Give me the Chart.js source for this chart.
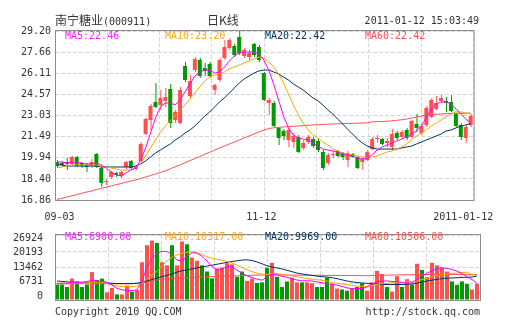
<!DOCTYPE html>
<html>
<head>
<meta charset="utf-8">
<title>南宁糖业(000911) 日K线</title>
<script src="https://cdn.jsdelivr.net/npm/chart.js@4.4.1/dist/chart.umd.min.js"></script>
<style>
  body { margin: 0; width: 505px; height: 330px; overflow: hidden; position: relative; background: #fff;
         font-family: "DejaVu Sans Mono", monospace; font-size: 10px; color: #333; }
  canvas { position: absolute; left: 0; }
  #kline { top: 0; }
  #vol { top: 225px; }
  .t { position: absolute; white-space: nowrap; line-height: 10px; }
  .cjk { font-family: "Noto Sans CJK SC", sans-serif; font-size: 12px; line-height: 12px; }
</style>
</head>
<body>
<canvas id="kline" width="505" height="225"></canvas>
<canvas id="vol" width="505" height="105"></canvas>

<div class="t cjk" style="left:55px;top:14px">南宁糖业</div>
<div class="t" style="left:103px;top:17px">(000911)</div>
<div class="t cjk" style="left:207px;top:14px">日K线</div>
<div class="t" style="right:26px;top:16px">2011-01-12 15:03:49</div>

<div class="t" style="left:65px;top:31px;color:#ff22ff">MA5:22.46</div>
<div class="t" style="left:165px;top:31px;color:#ffa520">MA10:23.20</div>
<div class="t" style="left:265px;top:31px;color:#003366">MA20:22.42</div>
<div class="t" style="left:365px;top:31px;color:#ff4c4c">MA60:22.42</div>

<div class="t" style="left:65px;top:232px;color:#ff22ff">MA5:6900.00</div>
<div class="t" style="left:165px;top:232px;color:#ffa520">MA10:10317.00</div>
<div class="t" style="left:265px;top:232px;color:#003366">MA20:9969.00</div>
<div class="t" style="left:365px;top:232px;color:#ff4c4c">MA60:10506.00</div>

<div class="t" style="left:55px;top:307px">Copyright 2010 QQ.COM</div>
<div class="t" style="right:25px;top:307px">http://stock.qq.com</div>

<script>
// daily candles, 09-03 .. 2011-01-12
const opens = [19.63,19.56,19.63,19.49,20.00,19.56,19.42,19.34,20.22,19.20,
  18.17,18.54,18.83,18.61,19.27,19.71,19.12,19.71,21.68,22.70,
  24.02,23.80,24.09,24.96,22.70,22.48,26.64,24.45,26.35,27.08,
  26.50,26.79,24.89,25.62,27.23,27.96,28.10,28.76,27.37,27.30,
  28.25,28.03,26.13,23.94,23.94,22.12,21.90,21.24,21.09,21.46,
  20.66,21.09,21.31,21.17,20.36,19.56,20.15,20.44,20.29,19.78,
  20.22,20.00,19.63,19.78,20.58,21.31,21.31,21.02,20.73,21.75,
  21.46,21.97,21.46,22.41,21.75,22.34,22.92,23.50,24.09,24.09,
  24.02,23.14,22.34,21.39,22.34];
const highs = [19.78,19.71,19.93,20.07,20.07,19.63,19.56,19.85,20.29,19.34,
  18.39,18.98,18.90,18.98,19.71,19.78,19.42,21.09,22.85,23.87,
  25.40,24.89,25.04,25.33,23.43,25.11,26.94,25.99,27.30,27.23,
  26.86,26.94,25.33,27.23,28.54,28.69,28.25,29.20,27.96,27.81,
  28.32,28.18,26.21,24.31,24.09,22.19,22.04,22.12,21.75,21.61,
  21.24,21.61,21.46,21.31,20.51,20.29,20.44,20.51,20.36,20.44,
  20.29,20.07,19.93,20.51,21.46,21.61,21.39,21.39,22.04,21.90,
  21.97,22.12,22.70,23.14,22.41,23.72,24.31,24.45,24.53,24.38,
  24.53,23.21,22.48,22.34,23.14];
const lows = [19.20,19.27,19.05,19.42,19.27,19.20,18.90,19.20,19.20,17.81,
  17.95,18.39,18.54,18.47,19.12,19.12,19.05,19.63,21.61,21.97,
  23.58,23.43,23.65,22.12,22.48,22.41,25.48,24.31,26.21,25.77,
  25.91,25.77,24.53,25.48,27.08,27.81,27.30,27.45,27.23,27.08,
  27.30,26.94,24.09,23.07,22.19,20.88,21.24,20.73,20.66,20.29,
  20.51,20.95,20.66,20.36,19.05,19.42,19.93,20.00,19.78,19.27,
  19.93,19.12,19.05,19.71,20.51,21.02,20.88,20.73,20.51,21.24,
  21.31,21.24,21.39,21.82,21.61,22.19,22.85,23.43,23.94,23.29,
  23.29,22.19,21.24,21.02,22.19];
const closes = [19.34,19.42,19.49,20.00,19.34,19.34,19.27,19.63,19.27,18.10,
  18.25,18.90,18.69,18.90,19.63,19.20,19.27,20.95,22.77,23.72,
  23.65,24.31,24.38,22.48,23.29,24.89,25.62,25.55,27.16,25.91,
  26.28,25.91,25.26,27.08,28.03,28.54,27.45,27.59,27.81,27.59,
  27.45,27.08,24.16,24.16,22.26,21.39,21.53,21.97,21.53,20.36,
  21.02,21.46,20.80,20.51,19.20,20.15,20.22,20.07,20.00,20.29,
  20.00,19.20,19.85,20.36,21.31,21.39,20.95,21.17,21.68,21.39,
  21.82,21.39,22.63,22.12,22.26,23.58,24.16,23.94,24.31,23.94,
  23.36,22.26,21.46,22.19,22.99];

// price moving averages
const ma5 = [19.63,19.63,19.56,19.63,19.63,19.56,19.49,19.49,19.56,19.42,
  19.20,18.90,18.69,18.61,18.83,19.05,19.20,19.78,20.66,21.75,
  22.85,23.65,23.94,23.94,23.80,24.16,24.75,25.33,25.91,26.21,
  26.35,26.35,26.13,26.21,26.57,27.01,27.37,27.59,27.67,27.67,
  27.67,27.52,27.08,26.35,25.33,24.16,22.99,22.12,21.61,21.39,
  21.31,21.24,21.02,20.80,20.58,20.51,20.44,20.36,20.22,20.15,
  20.07,19.93,19.85,19.93,20.15,20.51,20.73,20.88,21.02,21.17,
  21.31,21.46,21.68,21.90,22.26,22.92,23.50,23.87,24.02,24.02,
  23.87,23.50,23.14,22.77,22.46];
const ma10 = [19.20,19.27,19.34,19.42,19.42,19.42,19.42,19.42,19.42,19.34,
  19.27,19.20,19.12,19.05,19.05,19.05,19.20,19.56,20.07,20.66,
  21.24,21.82,22.26,22.63,22.99,23.43,23.80,24.23,24.67,25.11,
  25.55,25.84,25.99,26.06,26.21,26.43,26.57,26.72,26.86,27.01,
  27.16,27.30,27.23,26.94,26.57,26.06,25.40,24.60,23.80,23.07,
  22.48,21.97,21.61,21.39,21.09,20.88,20.58,20.44,20.29,20.22,
  20.15,20.07,20.00,19.93,20.00,20.07,20.22,20.36,20.44,20.58,
  20.73,20.95,21.24,21.53,21.75,21.97,22.26,22.48,22.70,22.92,
  23.14,23.29,23.29,23.21,23.20];
const ma20 = [19.42,19.42,19.34,19.34,19.34,19.34,19.34,19.34,19.34,19.27,
  19.27,19.27,19.27,19.27,19.27,19.27,19.34,19.49,19.71,20.00,
  20.29,20.51,20.73,20.95,21.24,21.46,21.75,21.97,22.26,22.63,
  22.99,23.29,23.65,24.02,24.31,24.67,25.04,25.40,25.70,25.91,
  26.13,26.28,26.35,26.35,26.21,26.06,25.84,25.62,25.33,25.11,
  24.89,24.60,24.31,24.09,23.80,23.43,23.14,22.77,22.41,22.04,
  21.68,21.31,21.02,20.80,20.66,20.58,20.58,20.58,20.58,20.58,
  20.66,20.73,20.80,20.95,21.09,21.24,21.39,21.53,21.68,21.90,
  21.97,22.12,22.26,22.34,22.42];
const ma60 = [16.90,16.98,17.08,17.17,17.25,17.35,17.44,17.52,17.62,17.71,
  17.79,17.89,17.98,18.06,18.16,18.25,18.33,18.43,18.54,18.65,
  18.76,18.87,18.99,19.14,19.28,19.43,19.58,19.74,19.89,20.04,
  20.20,20.35,20.50,20.66,20.80,20.95,21.09,21.24,21.39,21.53,
  21.68,21.82,21.97,22.08,22.13,22.17,22.19,22.22,22.24,22.26,
  22.29,22.31,22.34,22.36,22.38,22.39,22.41,22.42,22.44,22.45,
  22.46,22.47,22.48,22.50,22.56,22.58,22.59,22.61,22.64,22.68,
  22.72,22.77,22.85,22.92,22.99,23.07,23.10,23.12,23.14,23.16,
  23.18,23.19,23.19,23.19,23.19];

// volume and its moving averages
const volumes = [6410,6410,5380,8850,7690,5380,6410,11540,8330,8850,
  3200,5000,2310,2310,6030,3460,4100,15640,22690,24600,
  23600,15640,14360,22700,14360,24230,23080,17560,16280,14360,
  11790,8970,13080,13460,15250,14740,9620,11790,7950,8850,
  7050,7310,13330,15380,9620,5380,7690,9230,7310,7310,
  7310,6920,5380,5380,9230,6670,4740,4360,3850,4740,
  5380,6920,3850,7310,12050,10770,5380,3460,9870,5380,
  8590,6410,15000,12440,9490,15380,14360,13330,11790,7690,
  6280,7690,6670,4360,6670];
const volMa5 = [6730,6920,6920,7310,7310,7310,7690,8080,7880,7690,
  7310,6150,4810,4230,3850,3850,4230,7690,13850,17310,
  19230,20190,20000,18850,16540,16150,18080,19620,19420,18080,
  16150,13850,12310,12880,13850,13850,12310,11150,10000,9230,
  8650,8190,9620,10770,10380,9810,9420,8850,8270,7960,
  7960,7880,7500,7120,6730,6540,6150,5580,5000,4730,
  4730,4730,5380,6730,7500,7880,7880,7690,7500,7120,
  6920,7120,8460,10000,11150,12110,13080,13350,13080,12690,
  11920,10960,9620,8460,6900];
const volMa10 = [6920,6920,6920,6920,7120,7120,7120,7310,7310,7310,
  6920,6350,5770,5580,5580,5580,5770,6920,8850,10380,
  11920,14040,16150,17690,18650,19420,19810,20000,19620,18850,
  17880,17310,16920,16540,15960,15380,14420,13460,12500,11730,
  11150,10650,10580,10960,10960,10650,10380,10000,9620,9230,
  8920,8650,8380,8190,7880,7310,6920,6650,6350,6040,
  5770,5650,5650,5960,6420,6730,6920,7120,7310,7420,
  7580,7690,7880,8460,9040,9880,10190,10500,10770,10960,
  11150,11350,11540,10500,10317];
const volMa20 = [7880,7690,7500,7310,7310,7310,7310,7310,7310,7310,
  7120,6920,6810,6810,6810,6810,6920,7310,7880,8460,
  9040,9620,10190,10770,11540,12110,12500,12880,13270,13650,
  14040,14420,14810,15190,15580,15960,16230,16540,16650,16350,
  15770,15000,14230,13650,13270,12880,12310,11730,11150,10770,
  10460,10190,9880,9690,9500,9230,8850,8350,7880,7500,
  7230,7040,6920,6730,6540,6420,6420,6420,6420,6420,
  6540,6650,6920,7500,7880,8230,8540,8850,9040,9150,
  9230,9350,9420,9500,9969];
const volMa60 = [6730,6730,6730,6730,6730,6730,6730,6730,6730,6730,
  6730,6730,6730,6730,6730,6730,6920,7120,7500,7880,
  8350,8650,8770,8850,8960,9080,9190,9310,9420,9540,
  9620,9690,9770,9850,9880,9920,10000,10080,10150,10230,
  10310,10380,10460,10500,10420,10380,10350,10310,10310,10270,
  10270,10230,10230,10230,10190,10190,10150,10150,10150,10120,
  10120,10080,10080,10080,10150,10230,10310,10350,10380,10420,
  10460,10500,10500,10540,10540,10580,10580,10580,10580,10540,
  10540,10500,10500,10500,10506];

// axis ticks
const priceTicks = [16.86, 18.40, 19.94, 21.49, 23.03, 24.57, 26.11, 27.66, 29.20];
const volTicks = [0, 6731, 13462, 20193, 26924];
const dateTicks = [[0.5, '09-03'], [41.5, '11-12'], [82.5, '2011-01-12']];

const upColor = '#ff4f4f';
const downColor = '#009900';
const candleColors = closes.map((c, i) => c >= opens[i] ? upColor : downColor);
const tickFont = { family: 'DejaVu Sans Mono', size: 10 };

const xy = arr => arr.map((v, i) => ({ x: i, y: v }));

function maLine(label, data, color) {
  return { type: 'line', label, data: xy(data), xAxisID: 'x', yAxisID: 'y',
           borderColor: color, borderWidth: 1, pointRadius: 0, tension: 0, fill: false, order: 0 };
}

// grey box round the plot area
const frame = {
  id: 'frame',
  afterDraw(chart) {
    const { ctx, chartArea: a } = chart;
    ctx.save();
    ctx.strokeStyle = '#8c8c8c';
    ctx.lineWidth = 1;
    ctx.strokeRect(a.left + 0.5, a.top - 0.5, a.right - a.left, a.bottom - a.top + 1);
    ctx.restore();
  }
};

// 8 dashed vertical columns, independent of the candles
const gridX = {
  type: 'linear', position: 'bottom', min: 0, max: 8, offset: false,
  ticks: { display: false, stepSize: 1 },
  grid: { color: '#d6d6d6', drawTicks: false, offset: false },
  border: { display: false, dash: [4, 2] },
  afterFit: s => { s.height = 0; }
};

const common = {
  responsive: false,
  animation: false,
  events: [],
  plugins: { legend: { display: false }, tooltip: { enabled: false } }
};

new Chart(document.getElementById('kline'), {
  type: 'bar',
  data: {
    datasets: [
      maLine('MA5', ma5, '#ff00ff'),
      maLine('MA10', ma10, '#ffa500'),
      maLine('MA20', ma20, '#003366'),
      maLine('MA60', ma60, '#ff5050'),
      { label: 'shadow', data: lows.map((l, i) => ({ x: i, y: [l, highs[i]] })), xAxisID: 'xw', yAxisID: 'y',
        backgroundColor: candleColors, barThickness: 1, grouped: false, inflateAmount: 0, order: 2 },
      { label: 'body', data: opens.map((o, i) => ({ x: i, y: [o, closes[i]] })), xAxisID: 'x', yAxisID: 'y',
        backgroundColor: candleColors, barThickness: 4, minBarLength: 1, grouped: false, inflateAmount: 0, order: 1 }
    ]
  },
  options: {
    ...common,
    layout: { padding: { top: 31, right: 25, left: 0, bottom: 0 } },
    scales: {
      x: {
        type: 'linear', position: 'bottom', min: -0.4, max: 84.6, offset: false,
        afterBuildTicks: s => { s.ticks = dateTicks.map(t => ({ value: t[0] })); },
        ticks: { callback: (v, i) => dateTicks[i][1], font: tickFont, color: '#333',
                 padding: 11, maxRotation: 0, autoSkip: false },
        grid: { display: false, drawTicks: false, offset: false },
        border: { display: false },
        afterFit: s => { s.height = 25; }
      },
      xw: { type: 'linear', min: -0.5, max: 84.5, offset: false, display: false, grid: { offset: false } },
      xg: gridX,
      y: {
        min: 16.86, max: 29.20,
        afterBuildTicks: s => { s.ticks = priceTicks.map(v => ({ value: v })); },
        ticks: { callback: v => v.toFixed(2), font: tickFont, color: '#333', padding: 4 },
        grid: { color: '#d6d6d6', drawTicks: false },
        border: { display: false, dash: [4, 2] },
        afterFit: s => { s.width = 55; }
      }
    }
  },
  plugins: [frame]
});

new Chart(document.getElementById('vol'), {
  type: 'bar',
  data: {
    datasets: [
      maLine('MA5', volMa5, '#ff00ff'),
      maLine('MA10', volMa10, '#ffa500'),
      maLine('MA20', volMa20, '#003366'),
      maLine('MA60', volMa60, '#ff5050'),
      { label: 'volume', data: xy(volumes), xAxisID: 'x', yAxisID: 'y', backgroundColor: candleColors,
        barThickness: 4, grouped: false, inflateAmount: 0, order: 1 }
    ]
  },
  options: {
    ...common,
    layout: { padding: { top: 5, right: 25, left: 0, bottom: 30 } },
    scales: {
      x: { type: 'linear', min: -0.4, max: 84.6, offset: false, display: false, grid: { offset: false } },
      xg: gridX,
      y: {
        min: 0, max: 26924,
        afterBuildTicks: s => { s.ticks = volTicks.map(v => ({ value: v })); },
        ticks: { display: false },
        grid: { color: '#d6d6d6', drawTicks: false },
        border: { display: false, dash: [4, 2] },
        afterFit: s => { s.width = 0; }
      },
      // labels sit slightly inside the box at both ends
      yl: {
        position: 'left', min: -1718, max: 28341,
        afterBuildTicks: s => { s.ticks = volTicks.map(v => ({ value: v })); },
        ticks: { callback: v => String(v), font: tickFont, color: '#333', padding: 4 },
        grid: { display: false },
        border: { display: false },
        afterFit: s => { s.width = 55; }
      }
    }
  },
  plugins: [frame]
});
</script>
</body>
</html>
